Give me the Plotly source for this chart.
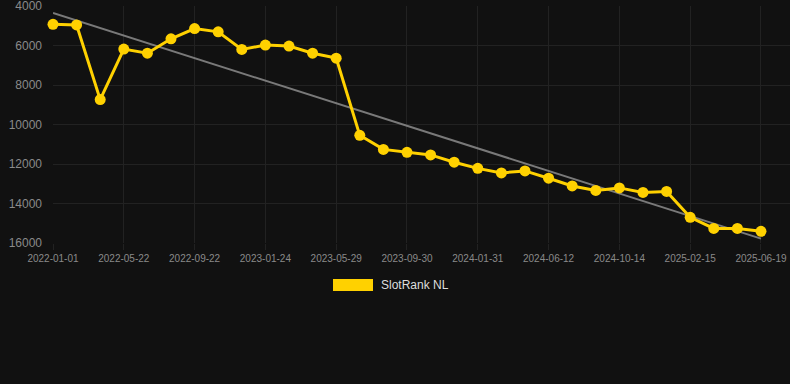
import numpy as np
import plotly.graph_objects as go

dates = [
    "2022-01-01", "2022-02-17", "2022-04-05", "2022-05-22", "2022-07-02",
    "2022-08-12", "2022-09-22", "2022-11-03", "2022-12-14", "2023-01-24",
    "2023-03-06", "2023-04-17", "2023-05-29", "2023-07-10", "2023-08-20",
    "2023-09-30", "2023-11-10", "2023-12-21", "2024-01-31", "2024-03-15",
    "2024-04-28", "2024-06-12", "2024-07-23", "2024-09-02", "2024-10-14",
    "2024-11-24", "2025-01-05", "2025-02-15", "2025-03-28", "2025-05-09",
    "2025-06-19",
]
rank = [
    4930, 4960, 8740, 6180, 6390, 5660, 5140, 5310, 6200, 5980,
    6030, 6390, 6640, 10550, 11260, 11410, 11540, 11910, 12220, 12450,
    12350, 12720, 13110, 13340, 13210, 13440, 13390, 14700, 15260, 15260,
    15410,
]
tick_labels = dates[::3]
y_ticks = [4000, 6000, 8000, 10000, 12000, 14000, 16000]
series_name = "SlotRank NL"

idx = np.arange(len(rank))
slope, intercept = np.polyfit(idx, rank, 1)
trend = slope * idx + intercept

BG = "#111111"
YELLOW = "#FFD100"

fig = go.Figure()
fig.add_trace(go.Scatter(
    x=dates, y=trend, mode="lines",
    line=dict(color="rgba(140,140,140,0.85)", width=2),
    hoverinfo="skip", showlegend=False, cliponaxis=False,
))
fig.add_trace(go.Scatter(
    x=dates, y=rank, mode="lines+markers", name=series_name,
    line=dict(color=YELLOW, width=3),
    marker=dict(color=YELLOW, size=11),
    showlegend=False, cliponaxis=False,
))

L, R, T, B = 53, 0, 6, 141
W, H = 790, 384
pw = W - L - R
ph = H - T - B

def px_x(px):
    return (px - L) / pw

def px_y(py):
    return (H - B - py) / ph

fig.add_shape(type="rect", xref="paper", yref="paper",
              x0=px_x(333), x1=px_x(373), y0=px_y(291), y1=px_y(279),
              fillcolor=YELLOW, line=dict(width=0))
fig.add_annotation(text=series_name, xref="paper", yref="paper",
                   x=px_x(379), y=px_y(285), xanchor="left", yanchor="middle",
                   showarrow=False, font=dict(color="#dddddd", size=12))

fig.update_layout(
    width=W, height=H,
    margin=dict(l=L, r=R, t=T, b=B, pad=0),
    paper_bgcolor=BG, plot_bgcolor=BG,
    font=dict(family="Liberation Sans, Arial, sans-serif", color="#8a8a8a"),
    showlegend=False,
    xaxis=dict(
        type="category", range=[0, 31.23],
        tickmode="array", tickvals=tick_labels, ticktext=tick_labels,
        tickfont=dict(size=10, color="#8a8a8a"),
        showgrid=True, gridcolor="#222222", gridwidth=1,
        ticks="outside", ticklen=6, tickcolor="#222222",
        zeroline=False, showline=False, ticklabeloverflow="allow",
    ),
    yaxis=dict(
        range=[16000, 4000], tickmode="array", tickvals=y_ticks,
        ticktext=[str(v) for v in y_ticks],
        tickfont=dict(size=12, color="#8a8a8a"),
        showgrid=True, gridcolor="#222222", gridwidth=1,
        ticks="", ticklabelstandoff=10, ticklabeloverflow="allow",
        zeroline=False, showline=False,
    ),
)

fig.write_html(
    "out.html",
    config={"displayModeBar": False},
    post_script="document.body.style.margin='0';document.body.style.background='#111111';",
)
